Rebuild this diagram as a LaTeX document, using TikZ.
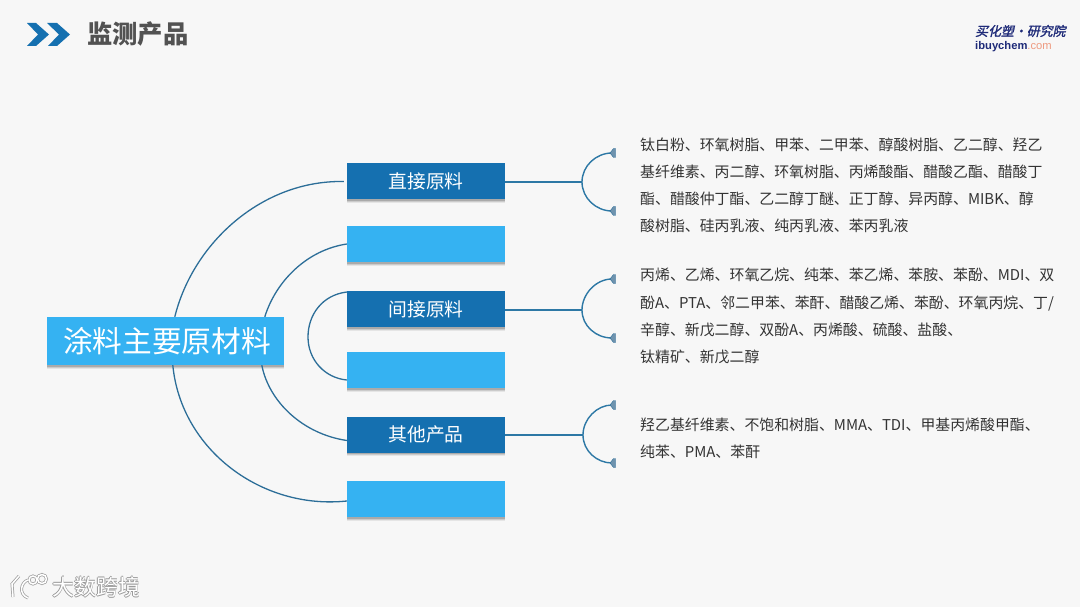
\documentclass[tikz,border=0pt]{standalone}
\usepackage{fontspec}
\setmainfont{Noto Sans CJK SC}
\newfontfamily\latinf{Liberation Sans}
\newfontfamily\slantf[FakeSlant=0.22,FakeBold=1.5]{Noto Sans CJK SC}
\usetikzlibrary{shadows,calc}
\definecolor{bgc}{HTML}{F7F7F7}
\definecolor{darkb}{HTML}{1570B0}
\definecolor{lightb}{HTML}{35B2F2}
\definecolor{linec}{HTML}{2C6E98}
\definecolor{txtc}{HTML}{333333}
\definecolor{dotc}{HTML}{6F93AE}
\definecolor{logoc}{HTML}{1E2A78}
\definecolor{comc}{HTML}{EE9A80}
\tikzset{
 x=1pt,y=-1pt,
 softshadow/.style={
   general shadow={shadow xshift=0pt,shadow yshift=-3.5pt,fill=black,opacity=.07},
   general shadow={shadow xshift=0pt,shadow yshift=-2.5pt,fill=black,opacity=.11},
   general shadow={shadow xshift=0pt,shadow yshift=-1.5pt,fill=black,opacity=.16}},
 box/.style={rectangle,minimum width=158pt,minimum height=36pt,inner sep=0pt,text=white,softshadow,
   font=\fontsize{18.8}{20}\selectfont},
 darkbox/.style={box,fill=darkb},
 lightbox/.style={box,fill=lightb},
 mainbox/.style={rectangle,fill=lightb,minimum width=237pt,minimum height=48pt,inner sep=0pt,text=white,softshadow,
   font=\fontsize{29.7}{32}\selectfont},
 conn/.style={draw=linec,line width=1.3pt},
 bracket/.style={draw=linec!85!lightb,line width=1.4pt},
 bell/.style={fill=dotc,draw=linec,line width=.4pt},
 list/.style={anchor=north west,inner sep=0pt,align=left,text=txtc,font=\fontsize{14.9}{27.2}\selectfont},
 chev/.style={fill=darkb,draw=none},
 wmtext/.style={anchor=west,inner sep=0pt,font=\fontsize{22}{24}\selectfont},
}
\newcommand{\capbell}[1]{\fill[bell] (#1) ++(-2,0) -- ++(3.5,-4.5) -- ++(2,0) -- ++(0,9) -- ++(-2,0) -- cycle;}
\newcommand{\wmlogo}{%
  \draw (19,576) -- (12,584) -- (13,597);
  \draw (28,580) .. controls (21,582) and (18,594) .. (28,598);
  \draw (33,580) circle[radius=4];
  \draw (42,579) circle[radius=4.5];}
\begin{document}
\begin{tikzpicture}
\useasboundingbox (0,0) rectangle (1080,607);
\fill[bgc] (0,0) rectangle (1080,607);
% header
\fill[chev] (27,23) -- (36,23) -- (49,34.5) -- (36,46) -- (27,46) -- (38,34.5) -- cycle;
\fill[chev] (47,23) -- (57,23) -- (70,34.5) -- (57,46) -- (48,46) -- (59,34.5) -- cycle;
\node[anchor=west,inner sep=0pt,text=black!68,font=\fontsize{25.3}{28}\bfseries\selectfont] (title) at (87,34) {监测产品};
\node[anchor=west,inner sep=0pt,text=logoc,font=\fontsize{12.9}{14}\slantf\selectfont] (logoa) at (975,31) {买化塑·研究院};
\node[anchor=west,inner sep=0pt,font=\fontsize{11.2}{14}\latinf\selectfont] (logob) at (975,47) {\textcolor{logoc}{\bfseries ibuychem}\textcolor{comc}{.com}};
% watermark
\begin{scope}[line width=3pt,draw=black!38]\wmlogo\end{scope}
\begin{scope}[line width=1.5pt,draw=white]\wmlogo\end{scope}
\node[wmtext,text=black!40] (wma) at (52.7,587) {大数跨境};
\node[wmtext,text=black!40] (wmc) at (51.3,587) {大数跨境};
\node[wmtext,text=black!40] (wmd) at (52,587.7) {大数跨境};
\node[wmtext,text=black!40] (wme) at (52,586.3) {大数跨境};
\node[wmtext,text=white] (wmb) at (52,587) {大数跨境};
% nodes
\node[mainbox] (main) at (165.5,341) {\hspace*{3pt}涂料主要原材料};
\node[darkbox] (b1) at (426,181.5) {直接原料};
\node[lightbox] (b2) at (426,244) {};
\node[darkbox] (b3) at (426,309) {间接原料};
\node[lightbox] (b4) at (426,370) {};
\node[darkbox] (b5) at (426,434.5) {其他产品};
\node[lightbox] (b6) at (426,499) {};
% connectors main -> boxes
\draw[conn] ([xshift=128pt]main.north west) .. controls (193,243) and (262,180) .. ([xshift=-3pt]b1.west);
\draw[conn] ([xshift=218pt]main.north west) .. controls (276,281) and (307,250) .. (b2.west);
\draw[conn] ([yshift=17pt]b3.west) .. controls (322,295) and (308,315) .. (308,337) .. controls (308,360) and (325,378) .. ([yshift=-10pt]b4.west);
\draw[conn] ([xshift=126pt]main.south west) .. controls (181,450) and (262,510) .. ([yshift=-2pt]b6.west);
\draw[conn] ([xshift=215pt]main.south west) .. controls (269,402) and (303,434) .. ([yshift=-6pt]b5.west);
% brackets
\coordinate (t1) at (612,153); \coordinate (m1) at (582,182); \coordinate (u1) at (612,211);
\coordinate (t2) at (612,279); \coordinate (m2) at (582,310); \coordinate (u2) at (612,338);
\coordinate (t3) at (612,405); \coordinate (m3) at (583,435); \coordinate (u3) at (612,463);
\draw[bracket] (b1.east |- m1) -- (m1);
\draw[bracket] (b3.east |- m2) -- (m2);
\draw[bracket] (b5.east |- m3) -- (m3);
\foreach \n in {1,2,3}{
 \draw[bracket] (t\n) .. controls ($(m\n |- t\n)+(14,0)$) and ($(m\n)+(0,-16)$) .. (m\n) .. controls ($(m\n)+(0,16)$) and ($(m\n |- u\n)+(14,0)$) .. (u\n);
 \capbell{t\n}
 \capbell{u\n}
}
% lists
\node[list] (l1) at (640,137.5) {钛白粉、环氧树脂、甲苯、二甲苯、醇酸树脂、乙二醇、羟乙\\基纤维素、丙二醇、环氧树脂、丙烯酸酯、醋酸乙酯、醋酸丁\\酯、醋酸仲丁酯、乙二醇丁醚、正丁醇、异丙醇、MIBK、醇\\酸树脂、硅丙乳液、纯丙乳液、苯丙乳液};
\node[list] (l2) at (640,268) {丙烯、乙烯、环氧乙烷、纯苯、苯乙烯、苯胺、苯酚、MDI、双\\酚A、PTA、邻二甲苯、苯酐、醋酸乙烯、苯酚、环氧丙烷、丁/\\辛醇、新戊二醇、双酚A、丙烯酸、硫酸、盐酸、\\钛精矿、新戊二醇};
\node[list] (l3) at (640,417.5) {羟乙基纤维素、不饱和树脂、MMA、TDI、甲基丙烯酸甲酯、\\纯苯、PMA、苯酐};
\end{tikzpicture}
\end{document}
